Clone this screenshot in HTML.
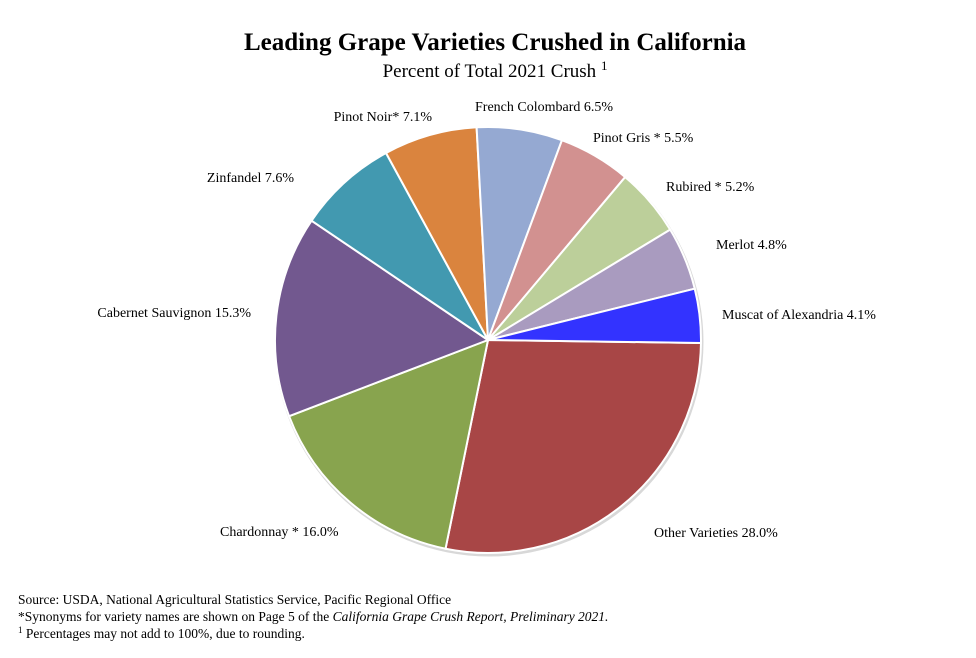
<!DOCTYPE html>
<html><head><meta charset="utf-8">
<style>
html,body{margin:0;padding:0;background:#fff;}
body{width:976px;height:653px;overflow:hidden;font-family:"Liberation Serif",serif;}
svg text{font-family:"Liberation Serif",serif;}
</style></head>
<body>
<svg id="chart" width="976" height="653" xmlns="http://www.w3.org/2000/svg">
<text x="495" y="50" text-anchor="middle" font-size="25" font-weight="bold">Leading Grape Varieties Crushed in California</text>
<text x="495" y="77" text-anchor="middle" font-size="19">Percent of Total 2021 Crush <tspan font-size="13" dy="-7">1</tspan></text>
<g id="slices"></g>
<g id="labels"></g>
<g font-size="13.5">
<text x="18" y="604">Source: USDA, National Agricultural Statistics Service, Pacific Regional Office</text>
<text x="18" y="621">*Synonyms  for variety names are shown on Page 5 of the <tspan font-style="italic">California Grape Crush Report, Preliminary 2021.</tspan></text>
<text x="18" y="638"><tspan font-size="9" dy="-5">1</tspan><tspan dy="5"> Percentages may not add to 100%, due to rounding.</tspan></text>
</g>
</svg>
<script>
const categories = ["Other Varieties","Chardonnay *","Cabernet Sauvignon","Zinfandel","Pinot Noir*","French Colombard","Pinot Gris *","Rubired *","Merlot","Muscat of Alexandria"];
const values = [28.0,16.0,15.3,7.6,7.1,6.5,5.5,5.2,4.8,4.1];
const colors = ["#a84646","#88a44e","#72588f","#4299b0","#da843e","#95a9d2","#d29190","#bccf9a","#a99bbf","#3333ff"];
const labelAnchors = [[654,537,"start"],[220,536,"start"],[251,317,"end"],[294,182,"end"],[432,121,"end"],[475,111,"start"],[593,142,"start"],[666,191,"start"],[716,249,"start"],[722,319,"start"]];
const cx=488, cy=340, r=213, startDeg=0.8;
const NS="http://www.w3.org/2000/svg";
const total=values.reduce((a,b)=>a+b,0);
function pt(deg){const a=deg*Math.PI/180;return [cx+r*Math.cos(a),cy+r*Math.sin(a)];}
const sg=document.getElementById('slices'), lg=document.getElementById('labels');
const shadow=document.createElementNS(NS,'circle');


shadow.setAttribute('cx',cx+1);shadow.setAttribute('cy',cy+2);shadow.setAttribute('r',r+1.5);shadow.setAttribute('fill','#d8d8d8');
sg.appendChild(shadow);
let acc=startDeg;
values.forEach((v,i)=>{
  const sweep=v/total*360, a0=acc, a1=acc+sweep; acc=a1;
  const p0=pt(a0), p1=pt(a1);
  const p=document.createElementNS(NS,'path');
  
  
  p.setAttribute('d',`M${cx},${cy} L${p0[0]},${p0[1]} A${r},${r} 0 ${sweep>180?1:0} 1 ${p1[0]},${p1[1]} Z`);
  p.setAttribute('fill',colors[i]);p.setAttribute('stroke','#fff');p.setAttribute('stroke-width','2');
  sg.appendChild(p);
  const la=labelAnchors[i];
  const t=document.createElementNS(NS,'text');
  
  
  t.setAttribute('x',la[0]);t.setAttribute('y',la[1]);t.setAttribute('text-anchor',la[2]);t.setAttribute('font-size','14');
  t.setAttribute('xml:space','preserve');
  t.textContent=categories[i]+'  '+v.toFixed(1)+'%';
  lg.appendChild(t);
});
</script>
</body></html>
